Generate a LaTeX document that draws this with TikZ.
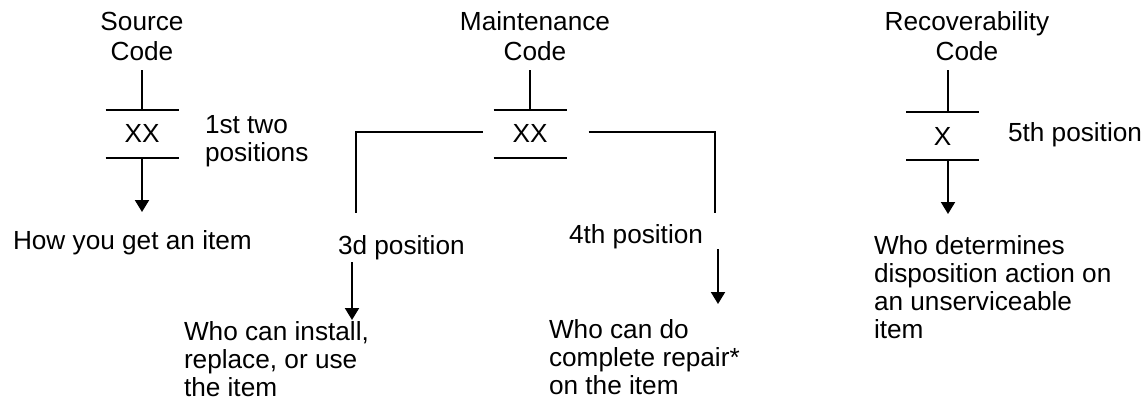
\documentclass[tikz,border=0pt]{standalone}
\usepackage{fontspec}
\setmainfont{Liberation Sans}
\usepackage{tikz}
\usetikzlibrary{arrows.meta, positioning, calc}

\begin{document}
\begin{tikzpicture}[x=0.5pt, y=-0.5pt, line width=1pt,
    every node/.style={font=\fontsize{13.1}{14}\selectfont, inner sep=0pt},
    codelbl/.style={align=center, anchor=south, inner ysep=4pt},
    codebox/.style={minimum width=35.5pt, minimum height=23pt},
    note/.style={align=left, anchor=north west},
    tip/.style={-{Triangle[width=7pt, length=6pt]}}]
      \useasboundingbox (0,0) rectangle (1144,403);
      %\draw[help lines] (0,0) grid[step=50] (1144,403);

      % source code
      \node[codelbl, font=\fontsize{13.1}{15}\selectfont] (srclbl) at (142,70) {Source\\Code};
      \node[codebox] (sc) at (142,133.7) {XX};
      \draw (sc.north west) -- (sc.north east);
      \draw (sc.south west) -- (sc.south east);
      \draw (srclbl.south) -- (sc.north);
      \node[anchor=base west] (pos12) at (204,133) {1st two};
      \node[anchor=base west] (pos12b) at (204,161) {positions};
      \coordinate (srctip) at (142,212);
      \draw[tip] (sc.south) -- (srctip);
      \node[anchor=base west] (how) at (12,249) {How you get an item};

      % maintenance code
      \node[codelbl, font=\fontsize{13.1}{15}\selectfont] (mntlbl) at (535,70) {Maintenance\\Code};
      \node[codebox] (mc) at (530,133.7) {XX};
      \draw (mc.north west) -- (mc.north east);
      \draw (mc.south west) -- (mc.south east);
      \draw (mntlbl.south -| mc.north) -- (mc.north);
      \coordinate (m3) at (355.7,131.7);
      \coordinate (m4) at (715,131.7);
      \draw ([xshift=-5.5pt, yshift=1pt]mc.west) -- (m3) -- (m3 |- 0,212.7);
      \draw ([xshift=11pt, yshift=1pt]mc.east) -- (m4) -- (m4 |- 0,212.7);
      \node[anchor=base west] (pos3) at (337,254) {3d position};
      \node[anchor=base west] (pos4) at (568,243) {4th position};
      \coordinate (tip3) at (352,320);
      \coordinate (tip4) at (718,304);
      \draw[tip] (pos3.south -| tip3) ++(0,2) -- (tip3);
      \draw[tip] (pos4.south -| tip4) -- (tip4);
      \node[note] (who3) at (183,321) {Who can install,\\replace, or use\\the item};
      \node[note] (who4) at (548,319) {Who can do\\complete repair*\\on the item};

      % recoverability code
      \node[codelbl, font=\fontsize{13.1}{15}\selectfont] (rclbl) at (967,70) {Recoverability\\Code};
      \node[codebox] (rc) at (942.5,136) {X};
      \draw (rc.north west) -- (rc.north east);
      \draw (rc.south west) -- (rc.south east);
      \coordinate (tip5) at (948,214);
      \draw (rclbl.south -| tip5) -- (rc.north -| tip5);
      \draw[tip] (rc.south -| tip5) -- (tip5);
      \node[anchor=base west] (pos5) at (1007,141.7) {5th position};
      \node[note] (who5) at (873,235) {Who determines\\disposition action on\\an unserviceable\\item};
    \end{tikzpicture}
\end{document}
